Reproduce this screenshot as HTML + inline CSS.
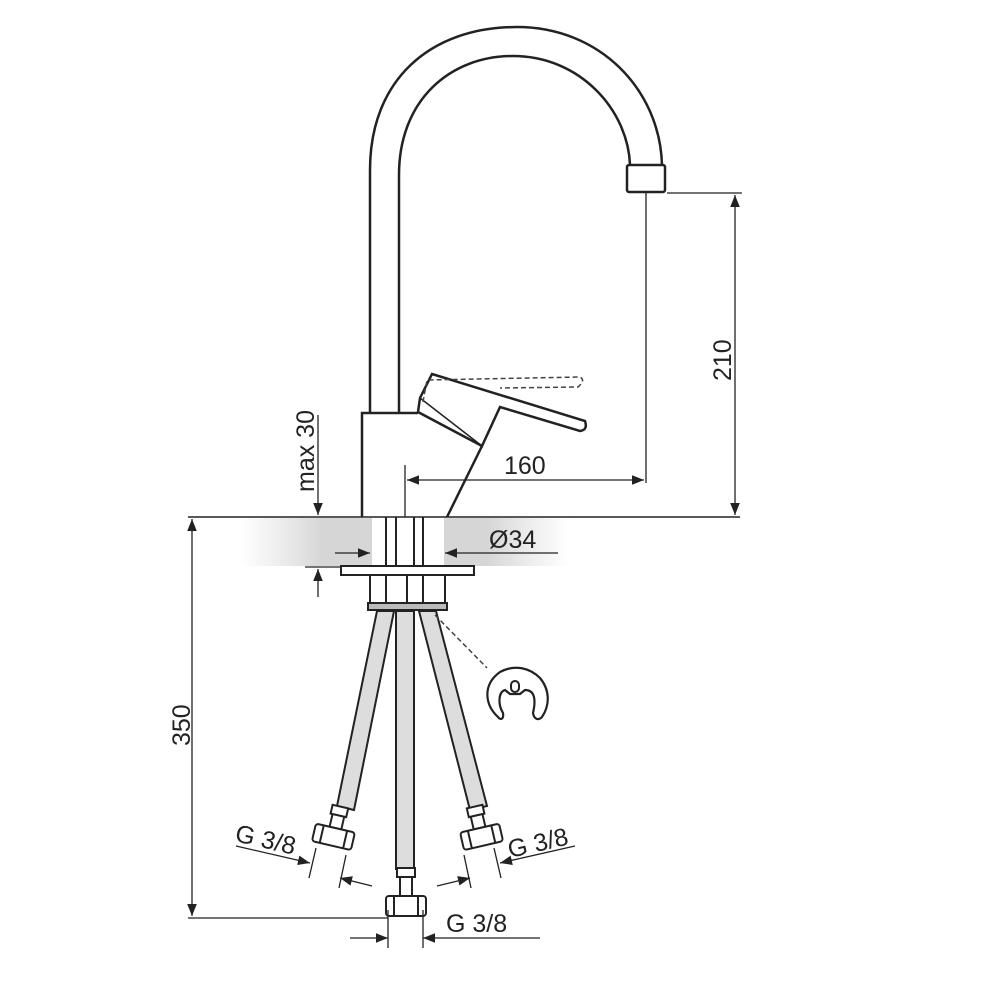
<!DOCTYPE html>
<html><head><style>body{margin:0;background:#fff}svg{display:block}text{font-family:"Liberation Sans",sans-serif;fill:#222}</style></head>
<body>
<svg width="1000" height="1000" viewBox="0 0 1000 1000" xmlns="http://www.w3.org/2000/svg">
<defs>
<linearGradient id="band" x1="0" x2="1" y1="0" y2="0">
<stop offset="0" stop-color="#ddd" stop-opacity="0"/>
<stop offset="0.25" stop-color="#d6d6d6"/>
<stop offset="0.75" stop-color="#d6d6d6"/>
<stop offset="1" stop-color="#ddd" stop-opacity="0"/>
</linearGradient>
<marker id="a" viewBox="0 0 10 10" refX="10" refY="5" markerWidth="14" markerHeight="12" orient="auto-start-reverse" markerUnits="userSpaceOnUse"><path d="M0,1 L10,5 L0,9 z" fill="#222"/></marker>
</defs>
<rect x="240" y="518" width="330" height="48" fill="url(#band)"/>
<rect x="372" y="518" width="72" height="48" fill="#fff"/>
<g fill="none" stroke="#222" stroke-width="2.5">
<path d="M370,412 L370,170 C370,80 430,27 517,27 C600,27 660,90 662,165"/>
<path d="M399,412 L399,175 C399,100 450,56 513,56 C580,56 628,110 630,165"/>
<rect x="627" y="165" width="38" height="27" rx="2" fill="#fff"/>
<path d="M362,517 L362,413 L418,413 M482,446 L447,517"/>
<path d="M432,374 L585,421 Q588,430 580,431 L500,407 L482,446 L418,412 L420,398 Z" fill="#fff"/>
<path d="M420,398 L482,446" stroke-width="1.5"/>
</g>
<path d="M423,402 L427,380 L580,377 Q586,380 578,387 L500,388" fill="none" stroke="#444" stroke-width="1.5" stroke-dasharray="5,3"/>
<line x1="188" y1="517" x2="740" y2="517" stroke="#222" stroke-width="1.5"/>
<g stroke="#222" stroke-width="2" fill="none">
<line x1="386" y1="517" x2="386" y2="566"/><line x1="396" y1="517" x2="396" y2="566"/>
<line x1="414" y1="517" x2="414" y2="566"/><line x1="423" y1="517" x2="423" y2="566"/>
<rect x="341" y="566" width="133" height="9" fill="#fff"/>
<rect x="370" y="575" width="75" height="28" fill="#fff"/>
<line x1="386" y1="575" x2="386" y2="603"/><line x1="407" y1="575" x2="407" y2="603"/><line x1="423" y1="575" x2="423" y2="603"/>
<rect x="368" y="603" width="79" height="7" fill="#bbb"/>
</g>
<g stroke="#222" stroke-width="2" fill="#ddd">
<polygon points="377,611 394,611 354,810 337,806"/>
<polygon points="419,611 436,611 487,806 470,810"/>
<rect x="396" y="611" width="18" height="258"/>
</g>
<g stroke="#222" stroke-width="2" fill="#fff">
<g transform="translate(335,830) rotate(13)"><rect x="-8" y="-24" width="16" height="9"/><rect x="-6" y="-15" width="12" height="13"/><rect x="-20" y="-2" width="40" height="18" rx="3"/><line x1="-12" y1="-2" x2="-12" y2="16"/><line x1="12" y1="-2" x2="12" y2="16"/></g>
<g transform="translate(480,830) rotate(-13)"><rect x="-8" y="-24" width="16" height="9"/><rect x="-6" y="-15" width="12" height="13"/><rect x="-20" y="-2" width="40" height="18" rx="3"/><line x1="-12" y1="-2" x2="-12" y2="16"/><line x1="12" y1="-2" x2="12" y2="16"/></g>
<g transform="translate(406,898)"><rect x="-9" y="-30" width="18" height="9"/><rect x="-6" y="-21" width="12" height="19"/><rect x="-20" y="-2" width="40" height="20" rx="3"/><line x1="-12" y1="-2" x2="-12" y2="18"/><line x1="12" y1="-2" x2="12" y2="18"/></g>
</g>
<path d="M435,615 L487,668" stroke="#444" stroke-width="1.5" stroke-dasharray="5,3"/>
<path d="M498,717 C485,705 482,685 500,672 C515,664 530,668 540,678 C550,690 550,705 542,717 C538,721 534,719 533,713 C536,700 535,690 525,690 L520,694 L510,694 L505,690 C498,692 498,705 503,713 C504,720 500,720 498,717 Z" fill="#fff" stroke="#222" stroke-width="2.2"/>
<rect x="511" y="681" width="8" height="11" rx="4" fill="none" stroke="#222" stroke-width="2"/>
<g stroke="#222" stroke-width="1.3" fill="none">
<line x1="667" y1="193" x2="742" y2="193"/>
<line x1="646" y1="193" x2="646" y2="483"/>
<line x1="735" y1="195" x2="735" y2="515" marker-start="url(#a)" marker-end="url(#a)"/>
<line x1="405" y1="465" x2="405" y2="517"/>
<line x1="407" y1="480" x2="644" y2="480" marker-start="url(#a)" marker-end="url(#a)"/>
<line x1="318" y1="415" x2="318" y2="515" marker-end="url(#a)"/>
<line x1="318" y1="597" x2="318" y2="569" marker-end="url(#a)"/>
<line x1="305" y1="567" x2="342" y2="567"/>
<line x1="335" y1="553" x2="370" y2="553" marker-end="url(#a)"/>
<line x1="558" y1="553" x2="445" y2="553" marker-end="url(#a)"/>
<line x1="192" y1="519" x2="192" y2="916" marker-start="url(#a)" marker-end="url(#a)"/>
<line x1="188" y1="918" x2="388" y2="918"/>
<line x1="388" y1="910" x2="388" y2="948"/><line x1="423" y1="910" x2="423" y2="948"/>
<line x1="350" y1="938" x2="388" y2="938" marker-end="url(#a)"/>
<line x1="540" y1="938" x2="423" y2="938" marker-end="url(#a)"/>
<line x1="236" y1="846" x2="310" y2="863" marker-end="url(#a)"/>
<line x1="372" y1="886" x2="340" y2="878" marker-end="url(#a)"/>
<line x1="316" y1="848" x2="309" y2="878"/><line x1="346" y1="855" x2="339" y2="888"/>
<line x1="575" y1="846" x2="500" y2="863" marker-end="url(#a)"/>
<line x1="437" y1="886" x2="470" y2="878" marker-end="url(#a)"/>
<line x1="464" y1="855" x2="471" y2="888"/><line x1="494" y1="848" x2="501" y2="878"/>
</g>
<g font-size="25">
<text x="504" y="474">160</text>
<text x="489" y="548">Ø34</text>
<text transform="translate(731,381) rotate(-90)">210</text>
<text transform="translate(314,492) rotate(-90)">max 30</text>
<text transform="translate(190,746) rotate(-90)">350</text>
<text x="446" y="932">G 3/8</text>
<text transform="translate(234,841) rotate(13)">G 3/8</text>
<text transform="translate(510,858) rotate(-13)">G 3/8</text>
</g>
</svg>
</body></html>
